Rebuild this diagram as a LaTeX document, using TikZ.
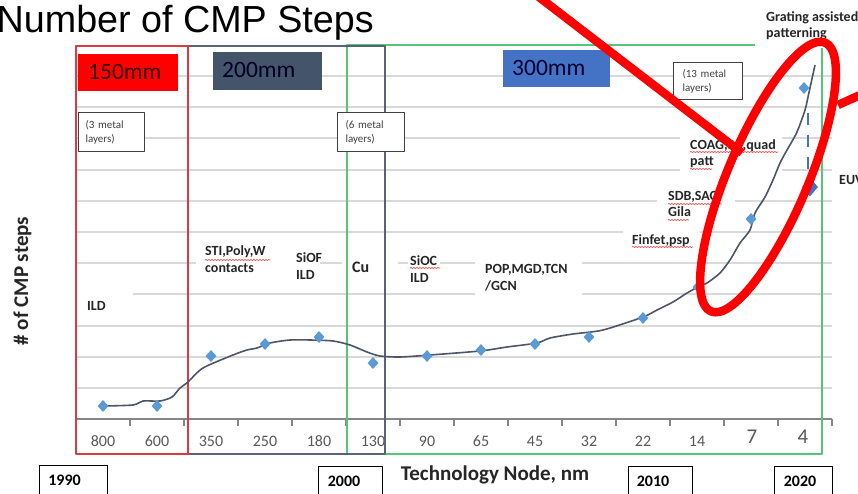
\documentclass[tikz,border=0pt]{standalone}
\usepackage{fontspec}
\setmainfont{Carlito}
\newfontfamily\arialf{Liberation Sans}
\usetikzlibrary{shapes.geometric,decorations.pathmorphing}
\definecolor{gridc}{HTML}{D9D9D9}
\definecolor{axisc}{HTML}{868686}
\definecolor{numc}{HTML}{595959}
\definecolor{redf}{HTML}{DC3A3F}
\definecolor{slatef}{HTML}{5A6275}
\definecolor{greenf}{HTML}{55C57A}
\definecolor{curvec}{HTML}{4D5566}
\definecolor{mkc}{HTML}{5B9BD5}
\definecolor{bluek}{HTML}{4472C4}
\definecolor{slatebox}{HTML}{44546A}
\definecolor{txtc}{HTML}{262626}
\definecolor{annotc}{HTML}{FF0000}
\newcommand\fsz[2]{\fontsize{#1}{#2}\selectfont}
\begin{document}
\begin{tikzpicture}[x=1pt,y=-1pt,line join=round,
  grid/.style={draw=gridc,line width=1.1pt},
  framebox/.style={line width=2pt},
  mk/.style={diamond,fill=mkc,inner sep=0pt,minimum width=11pt,minimum height=12pt},
  bigmk/.style={diamond,fill=bluek,inner sep=0pt,minimum width=16pt,minimum height=19pt},
  lbl/.style={font=\bfseries\fsz{14}{16.5},text=txtc,align=left,inner sep=0pt,anchor=base west},
  numlbl/.style={font=\fsz{16}{19},text=numc,inner sep=0pt,anchor=base},
  bignum/.style={font=\fsz{21}{24},text=numc,inner sep=0pt,anchor=base},
  sizebox/.style={inner sep=0pt,anchor=north west},
  metalbox/.style={draw=black!75,line width=1.1pt,fill=white,anchor=north west,align=left,
     font=\fsz{11}{14},text=black!75,inner ysep=0pt},
  yearbox/.style={draw=black,line width=1.2pt,fill=white,anchor=north west,inner sep=0pt},
  yearlbl/.style={font=\bfseries\fsz{16}{19},text=black,inner sep=0pt,anchor=base},
  wavy/.style={draw=red!75,line width=0.6pt,decorate,decoration={snake,segment length=3pt,amplitude=0.6pt}},
  annot/.style={draw=annotc,line width=8.5pt},
  dashline/.style={draw=bluek,line width=2.6pt,dash pattern=on 12pt off 10pt}]
\useasboundingbox (0,0) rectangle (858,494);
\clip (0,0) rectangle (858,494);
\fill[white] (0,0) rectangle (858,494);

% title
\node[font=\arialf\fsz{37.7}{44},anchor=base east,inner sep=0pt] (title) at (374,33) {Number of CMP Steps};

% gridlines
\foreach \yy in {76,107,138,170,201,232,263,294,326,357,388}
  \draw[grid] (77,\yy) -- (832,\yy);

% label backgrounds (text boxes hide the gridlines)
\fill[white] (77,284) rectangle (133,318);
\fill[white] (196,238) rectangle (290,288);
\fill[white] (289,244) rectangle (320,288);
\fill[white] (342,250) rectangle (398,285);
\fill[white] (408,246) rectangle (440,290);
\fill[white] (475,255) rectangle (582,300);
\fill[white] (623,225) rectangle (700,255);
\fill[white] (657,185) rectangle (735,225);
\fill[white] (680,130) rectangle (782,174);

% x axis and ticks
\draw[draw=axisc,line width=1.3pt] (76,419) -- (832,419);
\foreach \k in {0,...,14}
  \draw[draw=axisc,line width=1.1pt] ({76+54*\k},419) -- ({76+54*\k},426);

% axis category labels
\node[numlbl] (n800) at (103,446) {800};
\node[numlbl] (n600) at (157,446) {600};
\node[numlbl] (n350) at (211,446) {350};
\node[numlbl] (n250) at (265,446) {250};
\node[numlbl] (n180) at (319,446) {180};
\node[numlbl] (n130) at (373,446) {130};
\node[numlbl] (n90) at (427,446) {90};
\node[numlbl] (n65) at (481,446) {65};
\node[numlbl] (n45) at (535,446) {45};
\node[numlbl] (n32) at (589,446) {32};
\node[numlbl] (n22) at (643,446) {22};
\node[numlbl] (n14) at (697,446) {14};
\node[bignum] (n7) at (752,443) {7};
\node[bignum] (n4) at (803,443) {4};

% wafer-size frames
\draw[framebox,draw=greenf] (755,45) -- (347,45) -- (347,454) -- (822,454) -- (822,48);
\draw[framebox,draw=slatef] (188,46) -- (385,46) -- (385,454) -- (188,454);
\draw[framebox,draw=redf] (76,46) rectangle (188,454);

% wafer size boxes
\node[sizebox,fill=red,minimum width=100pt,minimum height=37pt] (b150) at (78,54) {};
\node[font=\fsz{23.5}{28},text=black!80!red,inner sep=0pt,anchor=base west] (t150) at (88,80) {150mm};
\node[sizebox,fill=slatebox,minimum width=109pt,minimum height=38pt] (b200) at (213,52) {};
\node[font=\fsz{23.5}{28},text=black!85!blue,inner sep=0pt,anchor=base west] (t200) at (222,78) {200mm};
\node[sizebox,fill=bluek,minimum width=107pt,minimum height=37pt] (b300) at (503,50) {};
\node[font=\fsz{23.5}{28},text=black!80!blue,inner sep=0pt,anchor=base west] (t300) at (512,76) {300mm};

% metal layer boxes
\node[metalbox,text width=52pt,inner xsep=7pt,minimum height=39pt] (ml3) at (78,112) {(3 metal\\layers)};
\node[metalbox,text width=51pt,inner xsep=8pt,minimum height=39pt] (ml6) at (337,112) {(6 metal\\layers)};
\node[metalbox,text width=51pt,inner xsep=9pt,minimum height=37pt] (ml13) at (673,62) {(13 metal\\layers)};

% process labels (position = baseline of the last line)
\node[lbl] (ild) at (87,310) {ILD};
\node[lbl] (sti) at (205,272) {STI,Poly,W\\contacts};
\node[lbl] (siof) at (296,279) {SiOF\\ILD};
\node[lbl,font=\bfseries\fsz{16}{19}] (cu) at (352,272) {Cu};
\node[lbl] (sioc) at (410,282) {SiOC\\ILD};
\node[lbl] (pop) at (485,290) {POP,MGD,TCN\\/GCN};
\node[lbl] (fin) at (632,244) {Finfet,psp};
\node[lbl] (sdb) at (668,217) {SDB,SAC,\\Gila};
\node[lbl] (coag) at (690,166) {COAG,SA,quad\\patt};
\node[lbl] (euvl) at (839,185) {EUV};
\node[lbl] (grat) at (766,38) {Grating assisted\\patterning};

% spell-check underlines
\draw[wavy] (205,260) -- (270,260);
\draw[wavy] (410,268) -- (440,268);
\draw[wavy] (632,247) -- (693,247);
\draw[wavy] (668,204) -- (722,204);
\draw[wavy] (668,220) -- (689,220);
\draw[wavy] (690,152) -- (778,152);
\draw[wavy] (690,169) -- (712,169);

% axis titles
\node[font=\bfseries\fsz{21}{25},text=txtc,rotate=90,anchor=base,inner sep=0pt] (ytitle) at (28,281) {\# of CMP steps};
\node[font=\bfseries\fsz{21}{25},text=txtc,anchor=base,inner sep=0pt] (xtitle) at (495,480) {Technology Node, nm};

% year boxes
\node[yearbox,minimum width=68pt,minimum height=40pt] (y1990) at (39,465) {};
\node[yearlbl] (t1990) at (64.5,485) {1990};
\node[yearbox,minimum width=64pt,minimum height=40pt] (y2000) at (318,466) {};
\node[yearlbl] (t2000) at (344,486) {2000};
\node[yearbox,minimum width=64pt,minimum height=40pt] (y2010) at (628,466) {};
\node[yearlbl] (t2010) at (653,486) {2010};
\node[yearbox,minimum width=58pt,minimum height=40pt] (y2020) at (774,466) {};
\node[yearlbl] (t2020) at (800,486) {2020};

% trend curve
\draw[draw=curvec,line width=1.6pt] plot[smooth,tension=0.45] coordinates {
 (103,406) (133,405) (143,401) (160,401) (172,397) (180,388) (188,382) (203,368)
 (233,355) (247,350) (257,348) (270,343) (290,340) (310,340) (333,341) (350,345)
 (367,352) (380,356) (400,357) (430,355) (480,351) (507,347) (537,343) (550,338)
 (573,334) (603,330) (643,317) (657,310) (673,302) (687,293) (698,287) (707,283)
 (720,273) (730,260) (740,243) (750,230) (755,213) (765,197) (773,180) (780,163)
 (787,150) (797,132) (805,110) (808,97) (815,65)};

% data points
\node[mk] (m800) at (103,406) {};
\node[mk] (m600) at (157,406) {};
\node[mk] (m350) at (211,356) {};
\node[mk] (m250) at (265,344) {};
\node[mk] (m180) at (319,337) {};
\node[mk] (m130) at (373,363) {};
\node[mk] (m90) at (427,356) {};
\node[mk] (m65) at (481,350) {};
\node[mk] (m45) at (535,344) {};
\node[mk] (m32) at (589,337) {};
\node[mk] (m22) at (643,318) {};
\node[mk] (m14) at (698,287) {};
\node[mk] (m7) at (751,219) {};
\node[mk] (m4) at (804,88) {};
\node[bigmk] (euv) at (810,187) {};
\coordinate (dtop) at (808,113);
\draw[dashline] (dtop) -- (dtop |- euv.north);

% red annotations
\draw[annot] (535,-6) -- (742,153);
\draw[annot,rotate around={-23:(768,177)}] (768,177) ellipse [x radius=40, y radius=146];
\draw[annot] (838,105) -- (880,86);
\end{tikzpicture}
\end{document}
